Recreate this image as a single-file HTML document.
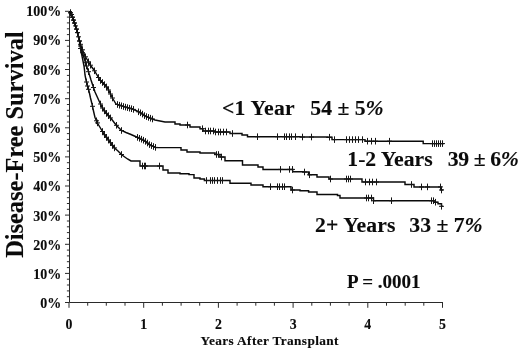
<!DOCTYPE html>
<html><head><meta charset="utf-8"><title>Disease-Free Survival</title>
<style>html,body{margin:0;padding:0;background:#fff}svg{display:block}</style></head>
<body>
<svg width="520" height="351" viewBox="0 0 520 351">
<rect width="520" height="351" fill="#fff"/>
<path d="M69.5 11V302.5H443M69.5 302.5h-4.5M69.5 296.7h-2.6M69.5 290.9h-2.6M69.5 285.0h-2.6M69.5 279.2h-2.6M69.5 273.4h-4.5M69.5 267.6h-2.6M69.5 261.7h-2.6M69.5 255.9h-2.6M69.5 250.1h-2.6M69.5 244.3h-4.5M69.5 238.4h-2.6M69.5 232.6h-2.6M69.5 226.8h-2.6M69.5 221.0h-2.6M69.5 215.1h-4.5M69.5 209.3h-2.6M69.5 203.5h-2.6M69.5 197.7h-2.6M69.5 191.8h-2.6M69.5 186.0h-4.5M69.5 180.2h-2.6M69.5 174.4h-2.6M69.5 168.5h-2.6M69.5 162.7h-2.6M69.5 156.9h-4.5M69.5 151.1h-2.6M69.5 145.3h-2.6M69.5 139.4h-2.6M69.5 133.6h-2.6M69.5 127.8h-4.5M69.5 122.0h-2.6M69.5 116.1h-2.6M69.5 110.3h-2.6M69.5 104.5h-2.6M69.5 98.7h-4.5M69.5 92.8h-2.6M69.5 87.0h-2.6M69.5 81.2h-2.6M69.5 75.4h-2.6M69.5 69.5h-4.5M69.5 63.7h-2.6M69.5 57.9h-2.6M69.5 52.1h-2.6M69.5 46.2h-2.6M69.5 40.4h-4.5M69.5 34.6h-2.6M69.5 28.8h-2.6M69.5 22.9h-2.6M69.5 17.1h-2.6M69.5 11.3h-4.5M69.0 302.5v5.3M87.7 302.5v3.2M106.3 302.5v3.2M125.0 302.5v3.2M143.7 302.5v5.3M162.4 302.5v3.2M181.1 302.5v3.2M199.7 302.5v3.2M218.4 302.5v5.3M237.1 302.5v3.2M255.8 302.5v3.2M274.4 302.5v3.2M293.1 302.5v5.3M311.8 302.5v3.2M330.4 302.5v3.2M349.1 302.5v3.2M367.8 302.5v5.3M386.5 302.5v3.2M405.2 302.5v3.2M423.8 302.5v3.2M442.5 302.5v5.3" fill="none" stroke="#2a2a2a" stroke-width="1"/>
<path d="M69.5 11.3 L71.3 14.0 L72.8 18.0 L74.5 23.0 L76.2 28.0 L77.6 33.0 L78.8 38.0 L79.5 41.0 L81.0 46.0 L83.0 51.0 L85.0 56.0 L88.0 61.0 L91.0 66.0 L94.0 70.0 L97.0 75.0 L100.0 80.0 L104.0 84.0 L107.5 88.0 L110.0 93.0 L113.0 99.0 L116.0 104.0 L122.0 106.0 L127.0 107.5 L132.5 109.0 L137.0 111.0 L141.0 113.0 L145.0 116.0 L150.0 118.0 L155.0 120.0 L165.0 122.0 H175.0 V124.0 H180.0 V125.0 H190.0 V127.0 H200.0 V128.7 H203.0 V131.0 H215.0 V132.0 H230.0 V133.5 H242.0 V135.0 H247.5 V136.7 H300.0 V137.0 H327.0 V137.2 H332.0 V139.6 H358.0 V139.6 H365.0 V141.2 H422.7 V141.2 H423.2 V143.6 H444.0 V143.6" fill="none" stroke="#0a0a0a" stroke-width="1.45" stroke-linejoin="miter"/>
<path d="M70.5 9.5v6.6M68.0 12.8h5M71.5 11.2v6.6M69.0 14.5h5M73.5 16.8v6.6M71.0 20.1h5M74.5 19.7v6.6M72.0 23.0h5M76.5 25.8v6.6M74.0 29.1h5M77.5 29.3v6.6M75.0 32.6h5M79.5 37.7v6.6M77.0 41.0h5M80.5 41.0v6.6M78.0 44.3h5M82.5 46.5v6.6M80.0 49.8h5M85.5 53.5v6.6M83.0 56.8h5M88.5 58.5v6.6M86.0 61.8h5M90.5 61.9v6.6M88.0 65.2h5M94.5 67.5v6.6M92.0 70.8h5M98.5 74.2v6.6M96.0 77.5h5M100.5 77.2v6.6M98.0 80.5h5M102.5 79.2v6.6M100.0 82.5h5M104.5 81.3v6.6M102.0 84.6h5M106.5 83.6v6.6M104.0 86.9h5M108.5 86.7v6.6M106.0 90.0h5M110.5 90.7v6.6M108.0 94.0h5M112.5 94.7v6.6M110.0 98.0h5M117.5 101.2v6.6M115.0 104.5h5M119.5 101.9v6.6M117.0 105.2h5M121.5 102.5v6.6M119.0 105.8h5M123.5 103.2v6.6M121.0 106.5h5M125.5 103.8v6.6M123.0 107.0h5M127.5 104.3v6.6M125.0 107.6h5M129.5 104.9v6.6M127.0 108.2h5M131.5 105.4v6.6M129.0 108.7h5M133.5 106.1v6.6M131.0 109.4h5M138.5 108.5v6.6M136.0 111.8h5M140.5 109.5v6.6M138.0 112.8h5M142.5 110.8v6.6M140.0 114.1h5M144.5 112.3v6.6M142.0 115.6h5M146.5 113.3v6.6M144.0 116.6h5M148.5 114.1v6.6M146.0 117.4h5M150.5 114.9v6.6M148.0 118.2h5M152.5 115.7v6.6M150.0 119.0h5M187.5 121.7v6.6M185.0 125.0h5M202.5 125.4v6.6M200.0 128.7h5M205.5 127.7v6.6M203.0 131.0h5M208.5 127.7v6.6M206.0 131.0h5M210.5 127.7v6.6M208.0 131.0h5M213.5 127.7v6.6M211.0 131.0h5M215.5 128.7v6.6M213.0 132.0h5M218.5 128.7v6.6M216.0 132.0h5M220.5 128.7v6.6M218.0 132.0h5M223.5 128.7v6.6M221.0 132.0h5M226.5 128.7v6.6M224.0 132.0h5M232.5 130.2v6.6M230.0 133.5h5M257.5 133.4v6.6M255.0 136.7h5M277.5 133.4v6.6M275.0 136.7h5M284.5 133.4v6.6M282.0 136.7h5M286.5 133.4v6.6M284.0 136.7h5M289.5 133.4v6.6M287.0 136.7h5M291.5 133.4v6.6M289.0 136.7h5M295.5 133.4v6.6M293.0 136.7h5M302.5 133.7v6.6M300.0 137.0h5M311.5 133.7v6.6M309.0 137.0h5M329.5 133.9v6.6M327.0 137.2h5M334.5 136.3v6.6M332.0 139.6h5M346.5 136.3v6.6M344.0 139.6h5M349.5 136.3v6.6M347.0 139.6h5M352.5 136.3v6.6M350.0 139.6h5M355.5 136.3v6.6M353.0 139.6h5M358.5 136.3v6.6M356.0 139.6h5M362.5 136.3v6.6M360.0 139.6h5M367.5 137.9v6.6M365.0 141.2h5M371.5 137.9v6.6M369.0 141.2h5M375.5 137.9v6.6M373.0 141.2h5M389.5 137.9v6.6M387.0 141.2h5M432.5 140.3v6.6M430.0 143.6h5M434.5 140.3v6.6M432.0 143.6h5M436.5 140.3v6.6M434.0 143.6h5M438.5 140.3v6.6M436.0 143.6h5M440.5 140.3v6.6M438.0 143.6h5M442.5 140.3v6.6M440.0 143.6h5" fill="none" stroke="#151515" stroke-width="1"/>
<path d="M69.5 11.3 L71.3 14.0 L72.8 18.0 L74.5 23.0 L76.2 28.0 L77.6 33.0 L78.8 38.0 L79.5 41.0 L80.5 46.0 L82.0 51.0 L83.5 56.0 L85.0 61.0 L86.5 66.0 L88.0 70.0 L89.5 75.0 L91.0 80.0 L93.0 86.0 L95.0 92.0 L97.5 97.5 L100.0 103.0 L103.0 109.0 L107.0 114.0 L111.5 119.0 L114.5 123.0 L118.0 127.0 L121.5 130.5 L126.0 132.5 L131.0 134.5 L135.5 136.5 L140.0 138.5 L145.0 141.0 L150.0 145.0 L156.0 147.6 L175.0 147.6 H181.0 V150.0 H187.0 V152.0 H200.0 V153.0 H215.0 V154.5 H220.0 V157.0 H225.0 V160.8 H239.0 V160.8 H242.5 V165.0 H258.0 V167.0 H263.0 V169.4 H286.0 V169.4 H292.7 V171.8 H303.0 V172.0 H308.6 V174.8 H317.0 V177.0 H329.0 V179.0 H358.0 V179.0 H362.0 V182.0 H401.0 V182.0 H405.0 V184.5 H411.0 V184.5 H414.0 V186.9 H438.5 V186.9 H441.0 V190.0 H442.8 V190.3" fill="none" stroke="#0a0a0a" stroke-width="1.45" stroke-linejoin="miter"/>
<path d="M70.5 9.5v6.6M68.0 12.8h5M72.5 13.9v6.6M70.0 17.2h5M73.5 16.8v6.6M71.0 20.1h5M75.5 22.6v6.6M73.0 25.9h5M77.5 29.3v6.6M75.0 32.6h5M79.5 37.7v6.6M77.0 41.0h5M80.5 42.7v6.6M78.0 46.0h5M82.5 49.4v6.6M80.0 52.7h5M85.5 59.4v6.6M83.0 62.7h5M86.5 62.7v6.6M84.0 66.0h5M88.5 68.4v6.6M86.0 71.7h5M93.5 84.2v6.6M91.0 87.5h5M100.5 100.7v6.6M98.0 104.0h5M102.5 104.7v6.6M100.0 108.0h5M104.5 107.6v6.6M102.0 110.9h5M106.5 110.1v6.6M104.0 113.4h5M108.5 112.4v6.6M106.0 115.7h5M110.5 114.6v6.6M108.0 117.9h5M116.5 122.0v6.6M114.0 125.3h5M121.5 127.2v6.6M119.0 130.5h5M137.5 134.1v6.6M135.0 137.4h5M139.5 135.0v6.6M137.0 138.3h5M141.5 135.9v6.6M139.0 139.2h5M143.5 136.9v6.6M141.0 140.2h5M145.5 138.1v6.6M143.0 141.4h5M147.5 139.7v6.6M145.0 143.0h5M149.5 141.3v6.6M147.0 144.6h5M151.5 142.3v6.6M149.0 145.7h5M153.5 143.2v6.6M151.0 146.5h5M155.5 144.1v6.6M153.0 147.4h5M216.5 151.2v6.6M214.0 154.5h5M218.5 151.2v6.6M216.0 154.5h5M221.5 153.7v6.6M219.0 157.0h5M280.5 166.1v6.6M278.0 169.4h5M289.5 166.1v6.6M287.0 169.4h5M292.5 166.1v6.6M290.0 169.4h5M304.5 168.7v6.6M302.0 172.0h5M309.5 171.5v6.6M307.0 174.8h5M330.5 175.7v6.6M328.0 179.0h5M346.5 175.7v6.6M344.0 179.0h5M348.5 175.7v6.6M346.0 179.0h5M350.5 175.7v6.6M348.0 179.0h5M365.5 178.7v6.6M363.0 182.0h5M369.5 178.7v6.6M367.0 182.0h5M372.5 178.7v6.6M370.0 182.0h5M376.5 178.7v6.6M374.0 182.0h5M411.5 181.2v6.6M409.0 184.5h5M421.5 183.6v6.6M419.0 186.9h5M427.5 183.6v6.6M425.0 186.9h5M440.5 183.6v6.6M438.0 186.9h5M441.5 186.7v6.6M439.0 190.0h5" fill="none" stroke="#151515" stroke-width="1"/>
<path d="M69.5 11.3 L71.3 14.0 L72.8 18.0 L74.5 23.0 L76.2 28.0 L77.6 33.0 L78.8 38.0 L79.5 41.0 L80.0 46.0 L81.0 51.0 L82.0 56.0 L83.0 61.0 L84.0 66.0 L84.5 70.0 L85.0 75.0 L86.0 80.0 L87.5 86.0 L89.0 91.0 L90.5 98.0 L92.0 104.0 L93.5 111.0 L95.0 117.5 L98.0 124.0 L101.0 129.0 L104.0 134.0 L107.0 138.0 L110.0 142.0 L114.0 147.5 L118.0 151.0 L122.0 155.0 L127.5 159.0 L131.0 161.0 H140.0 V166.0 H159.0 V166.0 H163.0 V170.0 H168.0 V173.0 H180.0 V173.8 H189.0 V174.6 H194.0 V178.0 H200.0 V179.0 H204.4 V180.5 H225.0 V180.5 H230.0 V183.3 H247.7 V183.3 H251.0 V185.0 H263.0 V186.7 H286.0 V186.7 H291.0 V190.0 H300.0 V190.7 H308.6 V192.0 H317.0 V194.4 H337.5 V195.4 H340.0 V198.0 H368.0 V198.0 H373.5 V200.7 H431.0 V200.7 H434.0 V202.2 H438.0 V203.8 H441.5 V206.3 H442.8 V206.3" fill="none" stroke="#0a0a0a" stroke-width="1.45" stroke-linejoin="miter"/>
<path d="M71.5 11.2v6.6M69.0 14.5h5M72.5 13.9v6.6M70.0 17.2h5M74.5 19.7v6.6M72.0 23.0h5M76.5 25.8v6.6M74.0 29.1h5M78.5 33.5v6.6M76.0 36.8h5M80.5 45.2v6.6M78.0 48.5h5M86.5 78.7v6.6M84.0 82.0h5M87.5 82.7v6.6M85.0 86.0h5M88.5 86.0v6.6M86.0 89.3h5M92.5 103.0v6.6M90.0 106.3h5M96.5 117.5v6.6M94.0 120.8h5M97.5 119.6v6.6M95.0 122.9h5M102.5 128.2v6.6M100.0 131.5h5M104.5 131.4v6.6M102.0 134.7h5M106.5 134.0v6.6M104.0 137.3h5M108.5 136.7v6.6M106.0 140.0h5M110.5 139.4v6.6M108.0 142.7h5M112.5 142.1v6.6M110.0 145.4h5M114.5 144.6v6.6M112.0 147.9h5M121.5 151.2v6.6M119.0 154.5h5M142.5 162.7v6.6M140.0 166.0h5M144.5 162.7v6.6M142.0 166.0h5M145.5 162.7v6.6M143.0 166.0h5M159.5 162.7v6.6M157.0 166.0h5M206.5 177.2v6.6M204.0 180.5h5M210.5 177.2v6.6M208.0 180.5h5M212.5 177.2v6.6M210.0 180.5h5M214.5 177.2v6.6M212.0 180.5h5M217.5 177.2v6.6M215.0 180.5h5M220.5 177.2v6.6M218.0 180.5h5M222.5 177.2v6.6M220.0 180.5h5M270.5 183.4v6.6M268.0 186.7h5M277.5 183.4v6.6M275.0 186.7h5M279.5 183.4v6.6M277.0 186.7h5M282.5 183.4v6.6M280.0 186.7h5M284.5 183.4v6.6M282.0 186.7h5M292.5 186.7v6.6M290.0 190.0h5M366.5 194.7v6.6M364.0 198.0h5M368.5 194.7v6.6M366.0 198.0h5M371.5 194.7v6.6M369.0 198.0h5M373.5 197.4v6.6M371.0 200.7h5M391.5 197.4v6.6M389.0 200.7h5M431.5 197.4v6.6M429.0 200.7h5M433.5 197.4v6.6M431.0 200.7h5M435.5 198.9v6.6M433.0 202.2h5M441.5 203.0v6.6M439.0 206.3h5" fill="none" stroke="#151515" stroke-width="1"/>
<text x="61.3" y="308.0" font-size="14" text-anchor="end" font-family="'Liberation Serif',serif" font-weight="bold" fill="#0b0b0b" stroke="#0b0b0b" stroke-width="0.12">0%</text>
<text x="61.3" y="278.8" font-size="14" text-anchor="end" font-family="'Liberation Serif',serif" font-weight="bold" fill="#0b0b0b" stroke="#0b0b0b" stroke-width="0.12">10%</text>
<text x="61.3" y="249.6" font-size="14" text-anchor="end" font-family="'Liberation Serif',serif" font-weight="bold" fill="#0b0b0b" stroke="#0b0b0b" stroke-width="0.12">20%</text>
<text x="61.3" y="220.5" font-size="14" text-anchor="end" font-family="'Liberation Serif',serif" font-weight="bold" fill="#0b0b0b" stroke="#0b0b0b" stroke-width="0.12">30%</text>
<text x="61.3" y="191.3" font-size="14" text-anchor="end" font-family="'Liberation Serif',serif" font-weight="bold" fill="#0b0b0b" stroke="#0b0b0b" stroke-width="0.12">40%</text>
<text x="61.3" y="162.1" font-size="14" text-anchor="end" font-family="'Liberation Serif',serif" font-weight="bold" fill="#0b0b0b" stroke="#0b0b0b" stroke-width="0.12">50%</text>
<text x="61.3" y="132.9" font-size="14" text-anchor="end" font-family="'Liberation Serif',serif" font-weight="bold" fill="#0b0b0b" stroke="#0b0b0b" stroke-width="0.12">60%</text>
<text x="61.3" y="103.7" font-size="14" text-anchor="end" font-family="'Liberation Serif',serif" font-weight="bold" fill="#0b0b0b" stroke="#0b0b0b" stroke-width="0.12">70%</text>
<text x="61.3" y="74.6" font-size="14" text-anchor="end" font-family="'Liberation Serif',serif" font-weight="bold" fill="#0b0b0b" stroke="#0b0b0b" stroke-width="0.12">80%</text>
<text x="61.3" y="45.4" font-size="14" text-anchor="end" font-family="'Liberation Serif',serif" font-weight="bold" fill="#0b0b0b" stroke="#0b0b0b" stroke-width="0.12">90%</text>
<text x="61.3" y="16.2" font-size="14" text-anchor="end" font-family="'Liberation Serif',serif" font-weight="bold" fill="#0b0b0b" stroke="#0b0b0b" stroke-width="0.12">100%</text>
<text x="69.0" y="329" font-size="13.8" text-anchor="middle" font-family="'Liberation Serif',serif" font-weight="bold" fill="#0b0b0b" stroke="#0b0b0b" stroke-width="0.12">0</text>
<text x="143.7" y="329" font-size="13.8" text-anchor="middle" font-family="'Liberation Serif',serif" font-weight="bold" fill="#0b0b0b" stroke="#0b0b0b" stroke-width="0.12">1</text>
<text x="218.4" y="329" font-size="13.8" text-anchor="middle" font-family="'Liberation Serif',serif" font-weight="bold" fill="#0b0b0b" stroke="#0b0b0b" stroke-width="0.12">2</text>
<text x="293.1" y="329" font-size="13.8" text-anchor="middle" font-family="'Liberation Serif',serif" font-weight="bold" fill="#0b0b0b" stroke="#0b0b0b" stroke-width="0.12">3</text>
<text x="367.8" y="329" font-size="13.8" text-anchor="middle" font-family="'Liberation Serif',serif" font-weight="bold" fill="#0b0b0b" stroke="#0b0b0b" stroke-width="0.12">4</text>
<text x="442.5" y="329" font-size="13.8" text-anchor="middle" font-family="'Liberation Serif',serif" font-weight="bold" fill="#0b0b0b" stroke="#0b0b0b" stroke-width="0.12">5</text>
<text x="200.5" y="345.3" font-size="13.3" textLength="138" lengthAdjust="spacing" font-family="'Liberation Serif',serif" font-weight="bold" fill="#0b0b0b" stroke="#0b0b0b" stroke-width="0.12">Years After Transplant</text>
<text transform="translate(22.6 144.6) rotate(-90)" font-size="24.4" text-anchor="middle" font-family="'Liberation Serif',serif" font-weight="bold" fill="#0b0b0b" stroke="#0b0b0b" stroke-width="0.12">Disease-Free Survival</text>
<text x="222.0" y="114.5" font-size="21.7" letter-spacing="0.25" font-family="'Liberation Serif',serif" font-weight="bold" fill="#0b0b0b" stroke="#0b0b0b" stroke-width="0.12">&lt;1 Year</text>
<text x="310.3" y="114.5" font-size="21.7" letter-spacing="0.00" font-family="'Liberation Serif',serif" font-weight="bold" fill="#0b0b0b" stroke="#0b0b0b" stroke-width="0.12">54 ± 5<tspan font-style="italic">%</tspan></text>
<text x="347.3" y="166.4" font-size="21.7" letter-spacing="0.00" font-family="'Liberation Serif',serif" font-weight="bold" fill="#0b0b0b" stroke="#0b0b0b" stroke-width="0.12">1-2 Years</text>
<text x="447.8" y="166.4" font-size="21.7" letter-spacing="-0.40" font-family="'Liberation Serif',serif" font-weight="bold" fill="#0b0b0b" stroke="#0b0b0b" stroke-width="0.12">39 ± 6<tspan font-style="italic">%</tspan></text>
<text x="315.0" y="232.4" font-size="21.7" letter-spacing="0.12" font-family="'Liberation Serif',serif" font-weight="bold" fill="#0b0b0b" stroke="#0b0b0b" stroke-width="0.12">2+ Years</text>
<text x="409.3" y="232.4" font-size="21.7" letter-spacing="0.00" font-family="'Liberation Serif',serif" font-weight="bold" fill="#0b0b0b" stroke="#0b0b0b" stroke-width="0.12">33 ± 7<tspan font-style="italic">%</tspan></text>
<text x="346.9" y="287.5" font-size="19" font-family="'Liberation Serif',serif" font-weight="bold" fill="#0b0b0b" stroke="#0b0b0b" stroke-width="0.12">P = .0001</text>
</svg>
</body></html>
